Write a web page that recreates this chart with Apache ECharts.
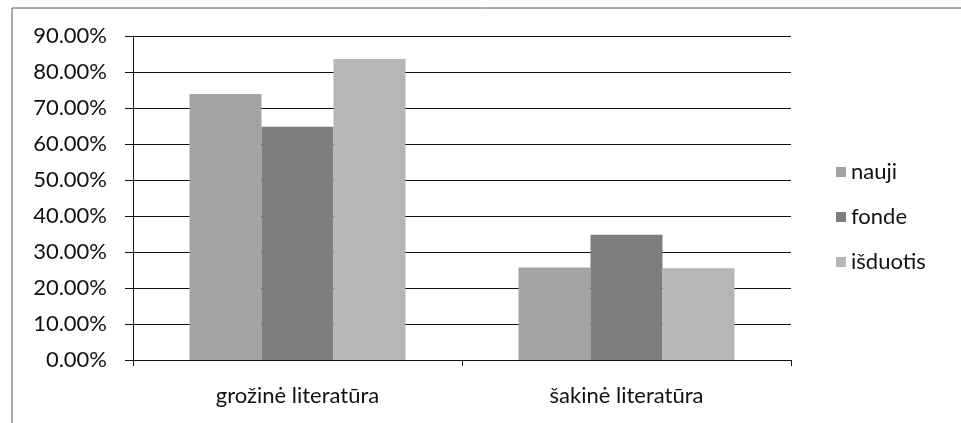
<!DOCTYPE html>
<html>
<head>
<meta charset="utf-8">
<script src="https://cdn.jsdelivr.net/npm/echarts@6/dist/echarts.min.js"></script>
<style>html,body{margin:0;padding:0;background:#fff;}#c{width:961px;height:423px;}</style>
</head>
<body>
<div id="c"></div>
<script>
const categories = ['grožinė literatūra', 'šakinė literatūra'];
const seriesNames = ['nauji', 'fonde', 'išduotis'];
const nauji = [73.9, 25.7];
const fonde = [64.8, 34.8];
const isduotis = [83.6, 25.5];
const yTicks = [0, 10, 20, 30, 40, 50, 60, 70, 80, 90];

const colors = ['#a3a3a3', '#7d7d7d', '#b6b6b6'];
const font = 'Lato, "Open Sans", sans-serif';
const chart = echarts.init(document.getElementById('c'));
const values = [nauji, fonde, isduotis];
chart.setOption({
  animation: false,
  backgroundColor: '#fff',
  color: colors,
  graphic: [
    { type: 'line', shape: { x1: 12, y1: 8, x2: 961, y2: 8 }, style: { stroke: '#555', lineWidth: 1 } },
    { type: 'line', shape: { x1: 12, y1: 8, x2: 12, y2: 423 }, style: { stroke: '#555', lineWidth: 1 } }
  ],
  grid: { left: 133, right: 170, top: 36, bottom: 63 },
  legend: {
    orient: 'vertical', left: 831, top: 156,
    itemWidth: 10, itemHeight: 10, itemGap: 23,
    icon: 'rect',
    textStyle: { fontFamily: font, fontSize: 22, color: '#111', lineHeight: 22 },
    data: seriesNames
  },
  xAxis: {
    type: 'category', data: categories,
    axisLine: { lineStyle: { color: '#111', width: 1 } },
    axisTick: { show: true, length: 6, lineStyle: { color: '#111' } },
    axisLabel: { fontFamily: font, fontSize: 22, color: '#111', margin: 25 }
  },
  yAxis: {
    type: 'value', min: yTicks[0], max: yTicks[yTicks.length - 1], interval: 10,
    axisLine: { show: true, lineStyle: { color: '#111', width: 1 } },
    axisTick: { show: true, length: 8, lineStyle: { color: '#111' } },
    splitLine: { lineStyle: { color: '#111', width: 1 } },
    axisLabel: { fontFamily: font, fontSize: 22, color: '#111', margin: 26,
      formatter: v => v.toFixed(2) + '%' }
  },
  series: seriesNames.map((n, i) => ({
    name: n, type: 'bar', data: values[i],
    barWidth: 72, barGap: '0%',
    itemStyle: { color: colors[i] }
  }))
});
</script>
</body>
</html>
